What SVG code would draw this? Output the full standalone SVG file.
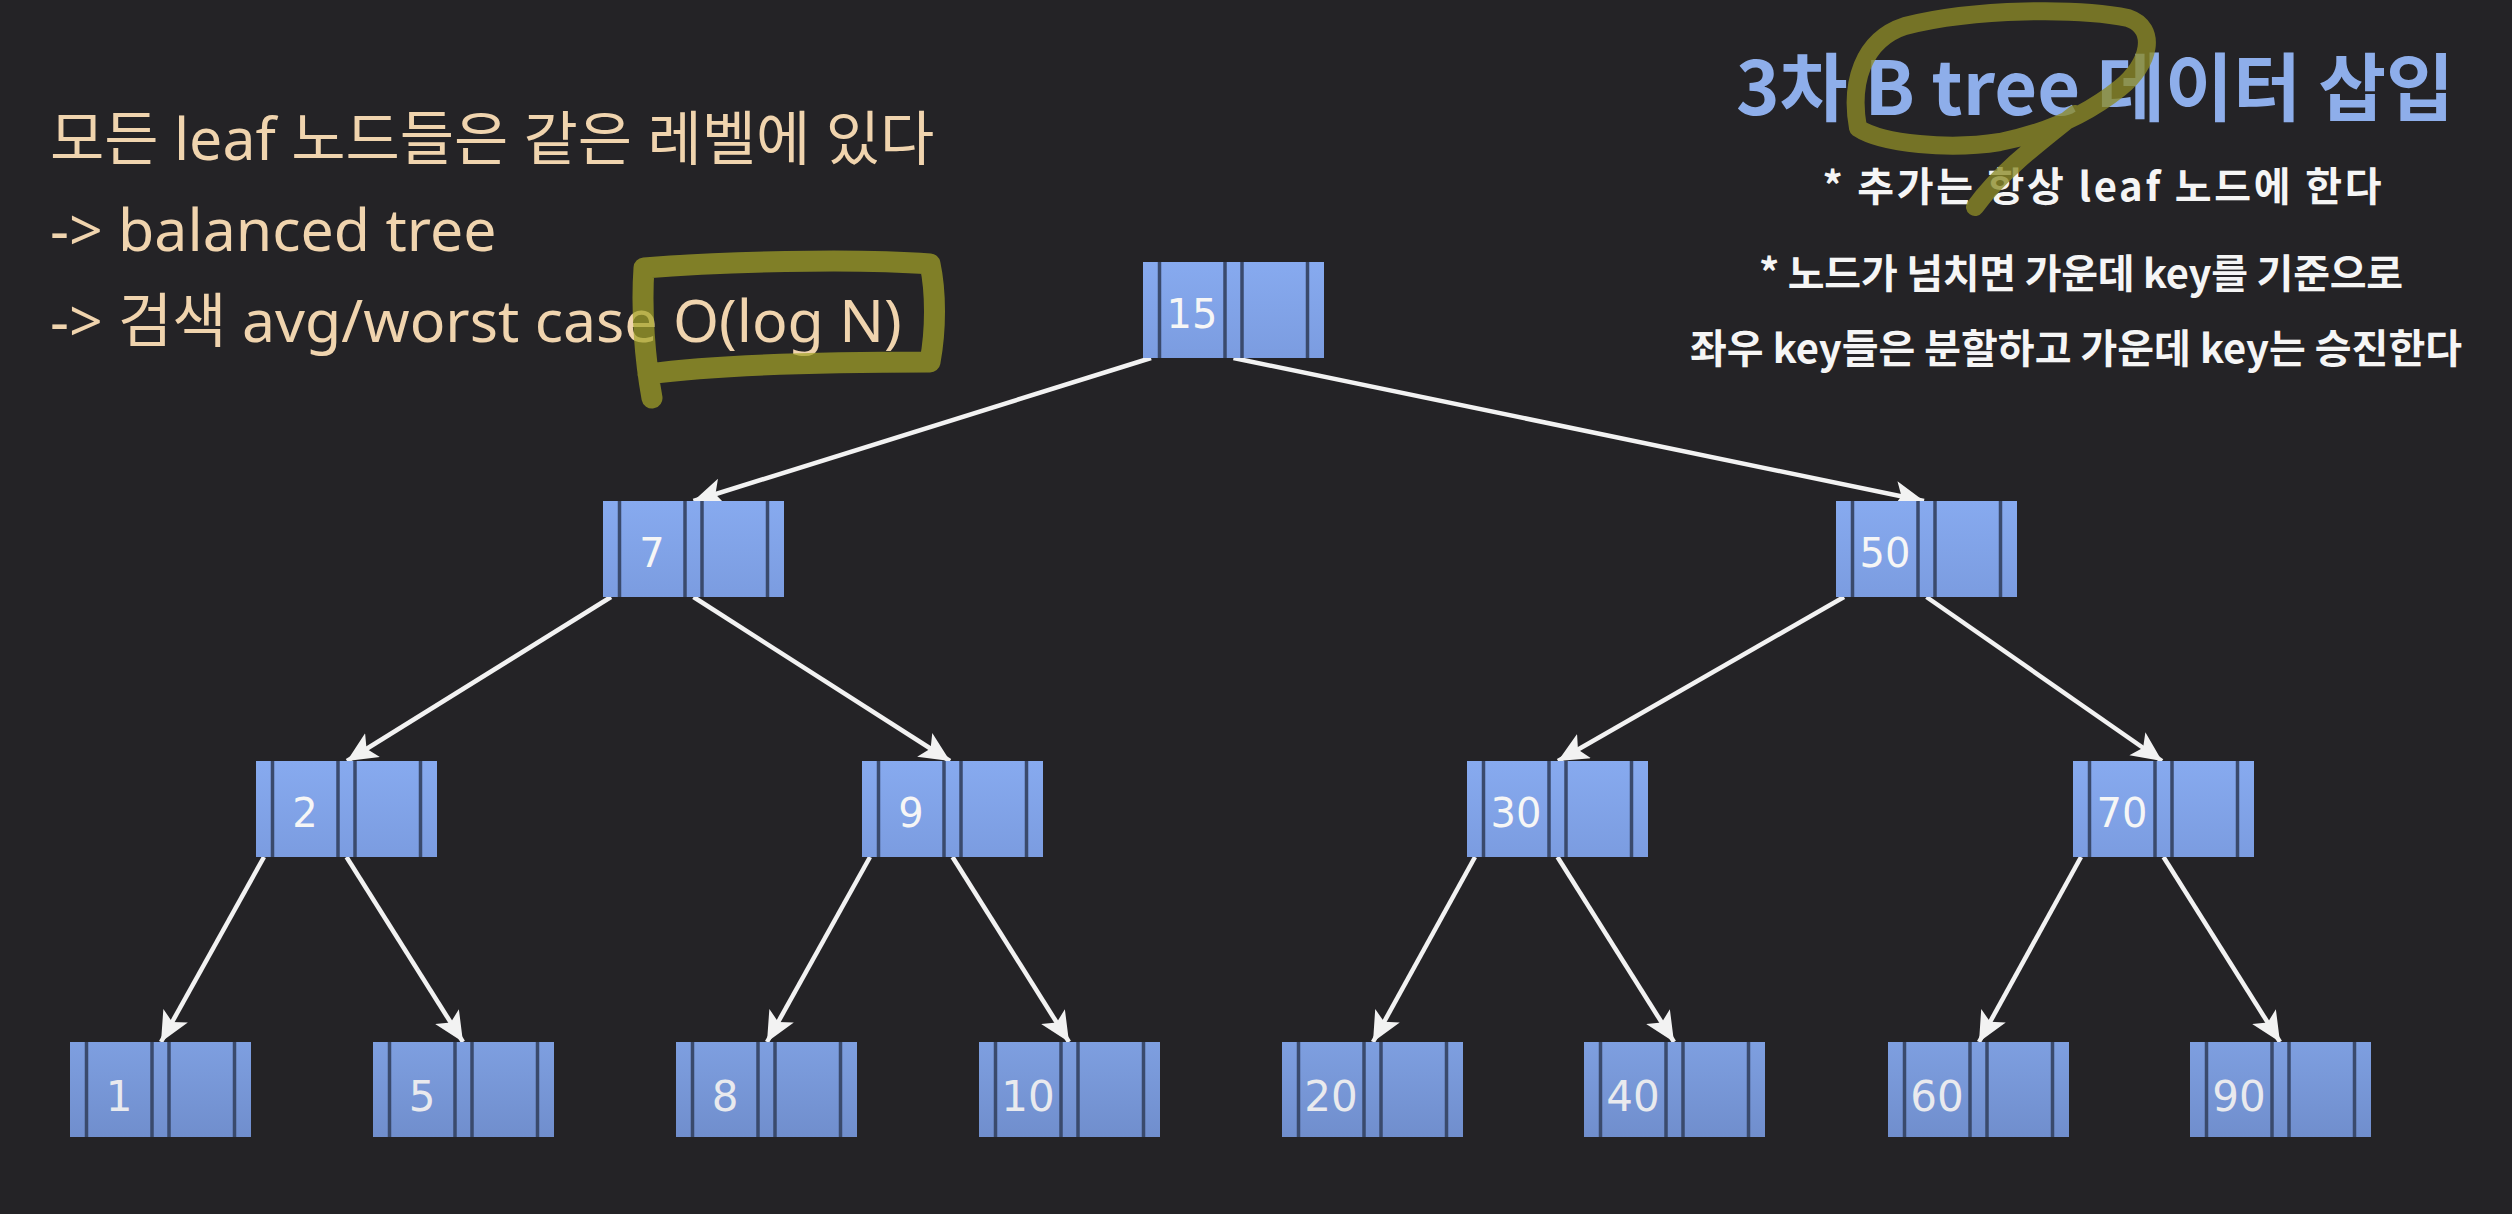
<svg xmlns="http://www.w3.org/2000/svg" xmlns:xlink="http://www.w3.org/1999/xlink" width="2512" height="1214" viewBox="0 0 2512 1214">
<style>
.div{stroke:#3a4a6c;stroke-width:3.5}
.edge{stroke:#f2f2f2;stroke-width:4.5;fill:none;marker-end:url(#arr)}
.key{font-family:"DejaVu Sans",sans-serif;font-size:40px;fill:#f6f6f6;text-anchor:middle}
.lkey{font-size:42px;fill:#e9eaee}
.left{font-family:"Noto Sans","Noto Sans CJK KR",sans-serif;font-size:59px;fill:#f0d4ae}
.title{font-family:"Noto Sans CJK KR",sans-serif;font-weight:700;font-size:74px;fill:#8eaeea;text-anchor:middle}
.bullet{font-family:"Noto Sans CJK KR",sans-serif;font-weight:700;font-size:40px;fill:#f5f5f5;text-anchor:middle}
.hl{fill:none;stroke:#a3a328;stroke-opacity:.72;stroke-width:21;stroke-linecap:round;stroke-linejoin:round}
.hl2{stroke:#8c8a26;stroke-opacity:.78;stroke-width:18}
</style>
<defs>
<linearGradient id="gInt" x1="0" y1="0" x2="0" y2="1"><stop offset="0" stop-color="#87aaef"/><stop offset="1" stop-color="#7b9ce0"/></linearGradient>
<linearGradient id="gLeaf" x1="0" y1="0" x2="0" y2="1"><stop offset="0" stop-color="#7e9fe0"/><stop offset="1" stop-color="#708ecd"/></linearGradient>
<marker id="arr" markerUnits="userSpaceOnUse" markerWidth="32" markerHeight="30" refX="30" refY="14" orient="auto"><path d="M0,0 L30,14 L0,28 L7,14 Z" fill="#f2f2f2"/></marker>
<g id="bodyInt"><rect width="181" height="96" fill="url(#gInt)"/><line class="div" x1="16.5" y1="0" x2="16.5" y2="96"/><line class="div" x1="82" y1="0" x2="82" y2="96"/><line class="div" x1="99" y1="0" x2="99" y2="96"/><line class="div" x1="164.5" y1="0" x2="164.5" y2="96"/></g>
<g id="bodyLeaf"><rect width="181" height="95" fill="url(#gLeaf)"/><line class="div" x1="16.5" y1="0" x2="16.5" y2="95"/><line class="div" x1="82" y1="0" x2="82" y2="95"/><line class="div" x1="99" y1="0" x2="99" y2="95"/><line class="div" x1="164.5" y1="0" x2="164.5" y2="95"/></g>
</defs>
<rect width="2512" height="1214" fill="#242326"/>

<g id="notes-left">
<text class="left" x="50" y="160">모든 leaf 노드들은 같은 레벨에 있다</text>
<text class="left" x="50" y="251">-&gt; balanced tree</text>
<text class="left" x="50" y="342">-&gt; 검색 avg/worst case O(log N)</text>
</g>
<g id="notes-right">
<text class="title" x="2095" y="115">3차 B tree 데이터 삽입</text>
<text class="bullet" x="2102" y="201" textLength="559" lengthAdjust="spacing">* 추가는 항상 leaf 노드에 한다</text>
<text class="bullet" x="2081" y="288" textLength="644" lengthAdjust="spacing">* 노드가 넘치면 가운데 key를 기준으로</text>
<text class="bullet" x="2076" y="363" textLength="772" lengthAdjust="spacing">좌우 key들은 분할하고 가운데 key는 승진한다</text>
</g>

<g id="connectors">
<line class="edge" x1="1151" y1="358" x2="693.5" y2="501"/>
<line class="edge" x1="1233.5" y1="358" x2="1924" y2="501"/>
<line class="edge" x1="611" y1="597" x2="347" y2="761"/>
<line class="edge" x1="693.5" y1="597" x2="950" y2="761"/>
<line class="edge" x1="1844" y1="597" x2="1558" y2="761"/>
<line class="edge" x1="1926.5" y1="597" x2="2162" y2="761"/>
<line class="edge" x1="264" y1="857" x2="161" y2="1042"/>
<line class="edge" x1="346.5" y1="857" x2="463" y2="1042"/>
<line class="edge" x1="870" y1="857" x2="767" y2="1042"/>
<line class="edge" x1="952.5" y1="857" x2="1069" y2="1042"/>
<line class="edge" x1="1475" y1="857" x2="1373" y2="1042"/>
<line class="edge" x1="1557.5" y1="857" x2="1674" y2="1042"/>
<line class="edge" x1="2081" y1="857" x2="1979" y2="1042"/>
<line class="edge" x1="2163.5" y1="857" x2="2280" y2="1042"/>
</g>

<g id="node-15"><use xlink:href="#bodyInt" x="1143" y="262"/><text class="key" x="1192" y="328">15</text></g>
<g id="node-7"><use xlink:href="#bodyInt" x="603" y="501"/><text class="key" x="652" y="567">7</text></g>
<g id="node-50"><use xlink:href="#bodyInt" x="1836" y="501"/><text class="key" x="1885" y="567">50</text></g>
<g id="node-2"><use xlink:href="#bodyInt" x="256" y="761"/><text class="key" x="305" y="827">2</text></g>
<g id="node-9"><use xlink:href="#bodyInt" x="862" y="761"/><text class="key" x="911" y="827">9</text></g>
<g id="node-30"><use xlink:href="#bodyInt" x="1467" y="761"/><text class="key" x="1516" y="827">30</text></g>
<g id="node-70"><use xlink:href="#bodyInt" x="2073" y="761"/><text class="key" x="2122" y="827">70</text></g>
<g id="leaf-1"><use xlink:href="#bodyLeaf" x="70" y="1042"/><text class="key lkey" x="119" y="1111">1</text></g>
<g id="leaf-5"><use xlink:href="#bodyLeaf" x="373" y="1042"/><text class="key lkey" x="422" y="1111">5</text></g>
<g id="leaf-8"><use xlink:href="#bodyLeaf" x="676" y="1042"/><text class="key lkey" x="725" y="1111">8</text></g>
<g id="leaf-10"><use xlink:href="#bodyLeaf" x="979" y="1042"/><text class="key lkey" x="1028" y="1111">10</text></g>
<g id="leaf-20"><use xlink:href="#bodyLeaf" x="1282" y="1042"/><text class="key lkey" x="1331" y="1111">20</text></g>
<g id="leaf-40"><use xlink:href="#bodyLeaf" x="1584" y="1042"/><text class="key lkey" x="1633" y="1111">40</text></g>
<g id="leaf-60"><use xlink:href="#bodyLeaf" x="1888" y="1042"/><text class="key lkey" x="1937" y="1111">60</text></g>
<g id="leaf-90"><use xlink:href="#bodyLeaf" x="2190" y="1042"/><text class="key lkey" x="2239" y="1111">90</text></g>

<g id="highlights">
<path class="hl" d="M652 398 C645 360 641 310 644 268 C720 262 850 258 930 264 C936 292 936 330 930 362 C850 362 720 364 648 374"/>
<path class="hl hl2" d="M1858 128 C1850 84 1862 40 1905 26 C1975 8 2080 8 2128 18 C2158 28 2150 64 2120 88 C2090 112 2050 132 2000 142 C1950 150 1882 144 1858 128 M2075 114 C2040 142 2000 172 1975 207"/>
</g>
</svg>
